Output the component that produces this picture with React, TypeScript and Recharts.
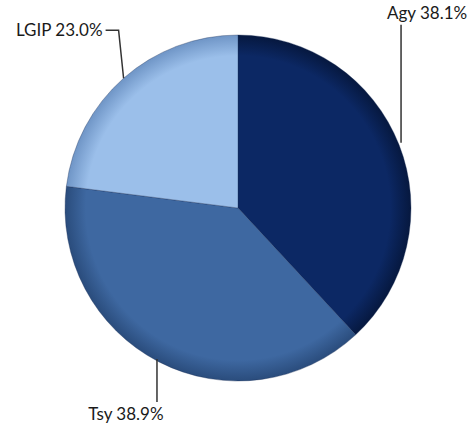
import { PieChart, Pie, Cell } from 'recharts'

const categories = ['Agy', 'Tsy', 'LGIP']
const shares = [38.1, 38.9, 23.0]
const labelDirs = ['up', 'down', 'upLeft']

const colors = ['#0c2864', '#3e68a1', '#9bbfea']
const rims = ['#06183f', '#2a4c7c', '#6f95c6']

const data = categories.map((name, i) => ({ name, value: shares[i] }))

const RAD = Math.PI / 180

function renderLabel(props: any) {
  const { cx, cy, midAngle, outerRadius, index } = props
  const x0 = cx + outerRadius * Math.cos(-midAngle * RAD)
  const y0 = cy + outerRadius * Math.sin(-midAngle * RAD)
  const text = `${categories[index]} ${shares[index].toFixed(1)}%`
  const dir = labelDirs[index]
  const style = { fontFamily: 'Lato, sans-serif', fontSize: 17, fill: '#1a1a1a' }

  if (dir === 'up') {
    const y1 = y0 - 120
    return (
      <g>
        <path d={`M${x0 + 2},${y0 - 2}L${x0 + 2},${y1}`} stroke="#333" strokeWidth={1.5} fill="none" />
        <text x={x0 + 28} y={y1 - 6} textAnchor="middle" {...style}>{text}</text>
      </g>
    )
  }
  if (dir === 'down') {
    const y1 = y0 + 40
    return (
      <g>
        <path d={`M${x0 - 2},${y0 - 3}L${x0 - 2},${y1}`} stroke="#333" strokeWidth={1.5} fill="none" />
        <text x={x0 - 33} y={y1 + 18} textAnchor="middle" {...style}>{text}</text>
      </g>
    )
  }
  const y1 = y0 - 48
  return (
    <g>
      <path d={`M${x0},${y0}L${x0 - 5},${y1}L${x0 - 18},${y1}`} stroke="#333" strokeWidth={1.5} fill="none" />
      <text x={x0 - 21} y={y1 + 6} textAnchor="end" {...style}>{text}</text>
    </g>
  )
}

export default function App() {
  return (
    <div style={{ position: 'absolute', left: 0, top: 0, background: '#fff' }}>
      <PieChart width={471} height={425} margin={{ top: 0, right: 0, bottom: 0, left: 0 }}>
        <defs>
          {colors.map((c, i) => (
            <radialGradient key={i} id={`g${i}`} cx={238} cy={208} r={173} gradientUnits="userSpaceOnUse">
              <stop offset="0%" stopColor={c} />
              <stop offset="88%" stopColor={c} />
              <stop offset="100%" stopColor={rims[i]} />
            </radialGradient>
          ))}
        </defs>
        <Pie
          data={data}
          dataKey="value"
          nameKey="name"
          cx={238}
          cy={208}
          outerRadius={173}
          startAngle={90}
          endAngle={-270}
          stroke="#1b2f55"
          strokeOpacity={0.35}
          strokeWidth={1}
          label={renderLabel}
          labelLine={false}
          isAnimationActive={false}
        >
          {data.map((d, i) => (
            <Cell key={d.name} fill={`url(#g${i})`} />
          ))}
        </Pie>
      </PieChart>
    </div>
  )
}
